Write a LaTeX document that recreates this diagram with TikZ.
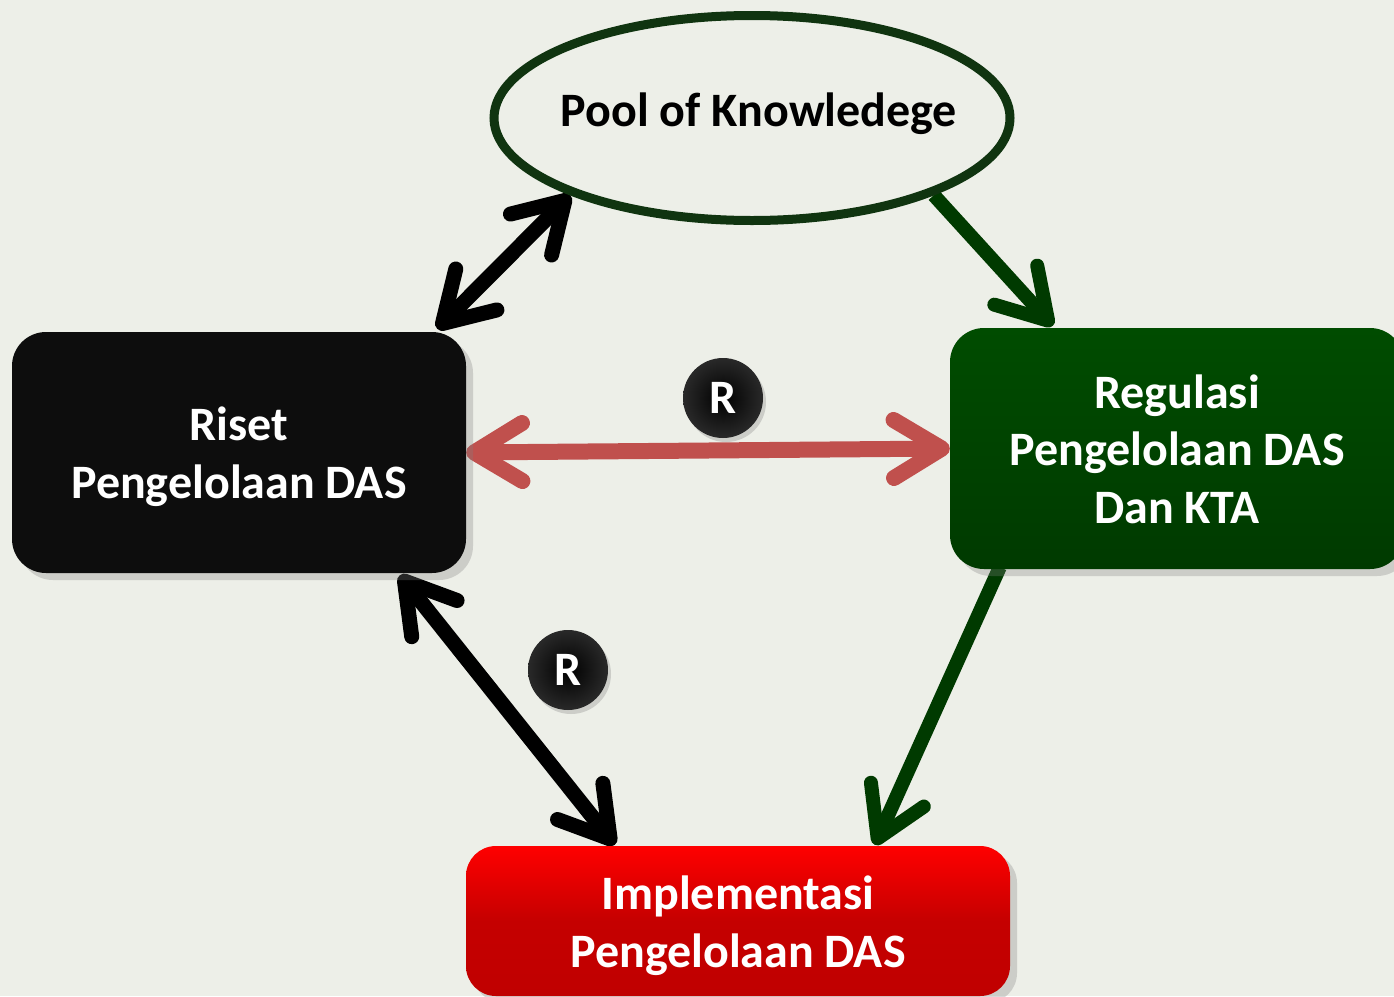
\documentclass[tikz,border=0pt]{standalone}
\usepackage{fontspec}
\setmainfont{Carlito}
\usetikzlibrary{arrows.meta,shapes.geometric,shadows,calc}
\definecolor{bg}{RGB}{237,239,232}
\definecolor{poolgreen}{RGB}{16,52,16}
\definecolor{arrowgreen}{RGB}{0,58,0}
\definecolor{regtop}{RGB}{0,76,0}
\definecolor{regbot}{RGB}{0,58,0}
\definecolor{implred}{RGB}{255,0,0}
\definecolor{impldark}{RGB}{192,0,0}
\definecolor{linkred}{RGB}{192,80,77}
\definecolor{risetblack}{RGB}{13,13,13}
\pgfdeclarelayer{back}
\pgfdeclarelayer{arr}
\pgfsetlayers{back,arr,main}
\tikzset{
  mainbox/.style={rectangle, rounded corners=34pt, minimum width=454pt, minimum height=241pt,
    inner sep=0pt, drop shadow={opacity=0.3, shadow xshift=7pt, shadow yshift=-7pt}},
  boxtext/.style={align=center, text=white, inner sep=0pt, font=\bfseries\fontsize{48}{57.5}\selectfont},
  rbadge/.style={circle, minimum size=80pt, inner sep=0pt, text=white,
    font=\bfseries\fontsize{48}{50}\selectfont, inner color=black, outer color=black!84!white,
    drop shadow={opacity=0.3, shadow xshift=3pt, shadow yshift=-4pt}},
  barbtip/.tip={Straight Barb[length=48pt,width=58pt,round]},
  onearrow/.style={-barbtip, line cap=butt},
  twoarrow/.style={barbtip-barbtip},
}
\begin{document}
\begin{tikzpicture}[x=1pt,y=-1pt]
\begin{pgfonlayer}{back}
\fill[bg] (0,0) rectangle (1394,996);
\end{pgfonlayer}
\useasboundingbox (0,0) rectangle (1394,996);

% nodes
\node[ellipse, draw=poolgreen, line width=9pt, minimum width=516pt, minimum height=205pt, inner sep=0pt] (pool) at (752,118) {};
\node[font=\bfseries\fontsize{48}{57}\selectfont, text=black, inner sep=0pt] (pooltext) at (759,114) {Pool of Knowledege};

\node[mainbox, fill=risetblack] (riset) at (239,452.5) {};
\node[boxtext] (risettext) at (239,456.5) {Riset\\Pengelolaan DAS};

\node[mainbox, top color=regtop, bottom color=regbot] (regulasi) at (1177,448.5) {};
\node[boxtext] (regtext) at (1177,449) {Regulasi\\Pengelolaan DAS\\Dan KTA};

\node[mainbox, rounded corners=30pt, minimum width=544pt, minimum height=150pt,
      top color=implred, bottom color=impldark, middle color=impldark!92!red] (impl) at (738,921) {};
\node[boxtext] (impltext) at (738,925.5) {Implementasi\\Pengelolaan DAS};

\node[rbadge] (r1) at (723,398) {R};
\node[rbadge] (r2) at (568,670) {R};

% connectors
\begin{pgfonlayer}{arr}
\draw[twoarrow, line width=15pt, black] ($(riset.north east)+(-29,-3)$) -- (pool.203);
\draw[onearrow, line width=14pt, arrowgreen] (pool.-23) -- ($(regulasi.north west)+(103,-2)$);
\draw[twoarrow, line width=16pt, linkred] (riset.east) -- (regulasi.west);
\draw[twoarrow, line width=15pt, black] ($(riset.south west)+(388,2)$) -- ($(impl.north west)+(149,-1)$);
\draw[onearrow, line width=14pt, arrowgreen] ($(regulasi.south west)+(50,-2)$) -- ($(impl.north west)+(409,-1)$);
\end{pgfonlayer}
\end{tikzpicture}
\end{document}
